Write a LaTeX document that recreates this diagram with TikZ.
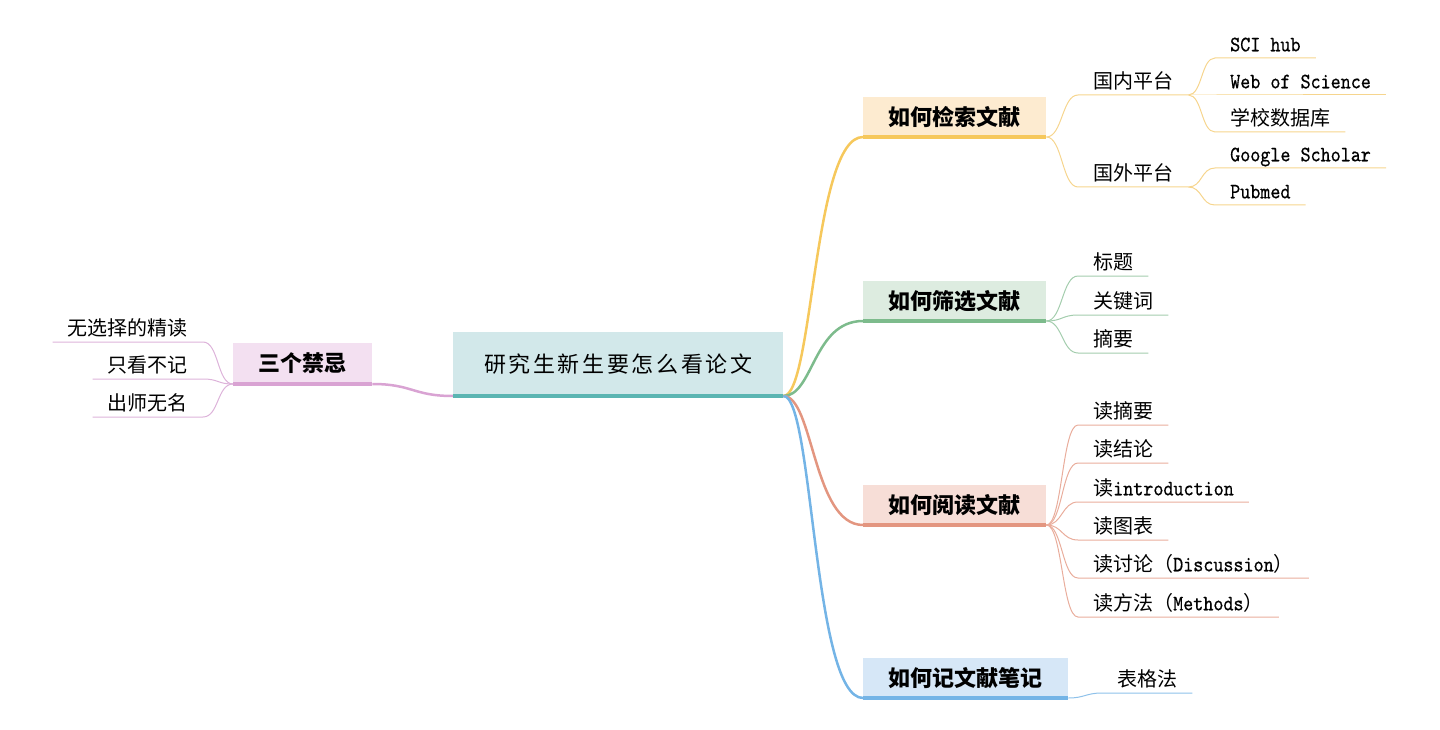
\documentclass[tikz,border=0pt]{standalone}
\usepackage{fontspec}
\setmainfont{Noto Sans CJK SC}
\newfontfamily\monofont[FakeBold=0.6, FakeStretch=0.87]{lmmono10-regular.otf}
\newcommand{\en}[1]{{\monofont\fontsize{22}{24}\selectfont #1}}
\definecolor{rootfill}{HTML}{D2E8EA}
\definecolor{rootline}{HTML}{5BB5B2}
\definecolor{searchfill}{HTML}{FDEBD0}
\definecolor{searchline}{HTML}{F6C85C}
\definecolor{searchtwig}{HTML}{F6D58E}
\definecolor{filterfill}{HTML}{DDECE0}
\definecolor{filterline}{HTML}{7DBB8C}
\definecolor{filtertwig}{HTML}{A3CDAD}
\definecolor{readfill}{HTML}{F7DED7}
\definecolor{readline}{HTML}{E39680}
\definecolor{readtwig}{HTML}{E9AD9C}
\definecolor{notesfill}{HTML}{D6E7F7}
\definecolor{notesline}{HTML}{74B4E6}
\definecolor{notestwig}{HTML}{8EC1EA}
\definecolor{taboofill}{HTML}{F3E0F1}
\definecolor{tabooline}{HTML}{D9A3D3}
\definecolor{tabootwig}{HTML}{DDB3DA}
\tikzset{
  topic/.style={anchor=south west, inner sep=0pt, minimum height=40pt, minimum width=183pt,
    font=\fontsize{22}{26}\selectfont\bfseries},
  leaf/.style={anchor=south west, inner xsep=15pt, inner ysep=2.5pt, text height=15pt, text depth=4pt,
    font=\fontsize{20}{24}\selectfont},
  leftleaf/.style={leaf, anchor=south east},
  bough/.style={line width=2.5pt},
  twig/.style={line width=1pt},
  bar/.style={line width=3.5pt}
}
\begin{document}
\begin{tikzpicture}[x=1pt, y=-1pt]
\useasboundingbox (0,0) rectangle (1440,730);
% central topic and main topics
\node[anchor=south west, fill=rootfill, inner sep=0pt, minimum width=330pt, minimum height=64pt,
  font=\fontsize{22}{26}\selectfont\addfontfeature{LetterSpace=12}] (root) at (453,396) {研究生新生要怎么看论文};
\node[topic, fill=searchfill] (search) at (863,137) {如何检索文献};
\node[topic, fill=filterfill] (filter) at (863,321) {如何筛选文献};
\node[topic, fill=readfill] (read) at (863,525) {如何阅读文献};
\node[topic, fill=notesfill, minimum width=205pt] (notes) at (863,698) {如何记文献笔记};
\node[topic, fill=taboofill, minimum width=139pt, minimum height=41pt] (taboo) at (233,384) {三个禁忌};
% main branches
\draw[bough, searchline] (root.south east) .. controls +(30,0) and +(-50,0) .. (search.south west);
\draw[bough, filterline] (root.south east) .. controls +(30,0) and +(-50,0) .. (filter.south west);
\draw[bough, readline] (root.south east) .. controls +(30,0) and +(-50,0) .. (read.south west);
\draw[bough, notesline] (root.south east) .. controls +(30,0) and +(-50,0) .. (notes.south west);
\draw[bough, tabooline] (root.south west) .. controls +(-40,0) and +(40,0) .. (taboo.south east);
% underline bars
\draw[bar, rootline] (root.south west) -- (root.south east);
\draw[bar, searchline] (search.south west) -- (search.south east);
\draw[bar, filterline] (filter.south west) -- (filter.south east);
\draw[bar, readline] (read.south west) -- (read.south east);
\draw[bar, notesline] (notes.south west) -- (notes.south east);
\draw[bar, tabooline] (taboo.south west) -- (taboo.south east);
% search leaves
\node[leaf] (domestic) at (1078,95) {国内平台};
\node[leaf] (foreign) at (1078,187) {国外平台};
\node[leaf] (scihub) at (1215,58) {\en{SCI hub}};
\node[leaf] (wos) at (1215,95) {\en{Web of Science}};
\node[leaf] (schooldb) at (1215,132) {学校数据库};
\node[leaf] (scholar) at (1215,168) {\en{Google Scholar}};
\node[leaf] (pubmed) at (1215,205) {\en{Pubmed}};
\foreach \n in {domestic, foreign}
  \draw[twig, searchtwig] (search.south east) .. controls +(16,0) and +(-16,0) .. (\n.south west) -- (\n.south east);
\foreach \n in {scihub, wos, schooldb}
  \draw[twig, searchtwig] (domestic.south east) .. controls +(14,0) and +(-14,0) .. (\n.south west) -- (\n.south east);
\foreach \n in {scholar, pubmed}
  \draw[twig, searchtwig] (foreign.south east) .. controls +(14,0) and +(-14,0) .. (\n.south west) -- (\n.south east);
% filter leaves
\node[leaf] (title) at (1078,276) {标题};
\node[leaf] (keyword) at (1078,315) {关键词};
\node[leaf] (abstract) at (1078,353) {摘要};
\foreach \n in {title, keyword, abstract}
  \draw[twig, filtertwig] (filter.south east) .. controls +(16,0) and +(-16,0) .. (\n.south west) -- (\n.south east);
% read leaves
\node[leaf] (rabstract) at (1078,425) {读摘要};
\node[leaf] (rconclusion) at (1078,463) {读结论};
\node[leaf] (rintro) at (1078,502) {读\en{introduction}};
\node[leaf] (rfigure) at (1078,540) {读图表};
\node[leaf] (rdiscuss) at (1078,578) {读讨论（\en{Discussion}）};
\node[leaf] (rmethod) at (1078,617) {读方法（\en{Methods}）};
\foreach \n in {rabstract, rconclusion, rintro, rfigure, rdiscuss, rmethod}
  \draw[twig, readtwig] (read.south east) .. controls +(16,0) and +(-16,0) .. (\n.south west) -- (\n.south east);
% notes leaf
\node[leaf] (tablemethod) at (1102,693) {表格法};
\draw[twig, notestwig] (notes.south east) .. controls +(16,0) and +(-16,0) .. (tablemethod.south west) -- (tablemethod.south east);
% taboo leaves
\node[leftleaf] (blindread) at (203,342) {无选择的精读};
\node[leftleaf] (nonotes) at (203,379) {只看不记};
\node[leftleaf] (noname) at (203,417) {出师无名};
\foreach \n in {blindread, nonotes, noname}
  \draw[twig, tabootwig] (taboo.south west) .. controls +(-16,0) and +(16,0) .. (\n.south east) -- (\n.south west);
\end{tikzpicture}
\end{document}
